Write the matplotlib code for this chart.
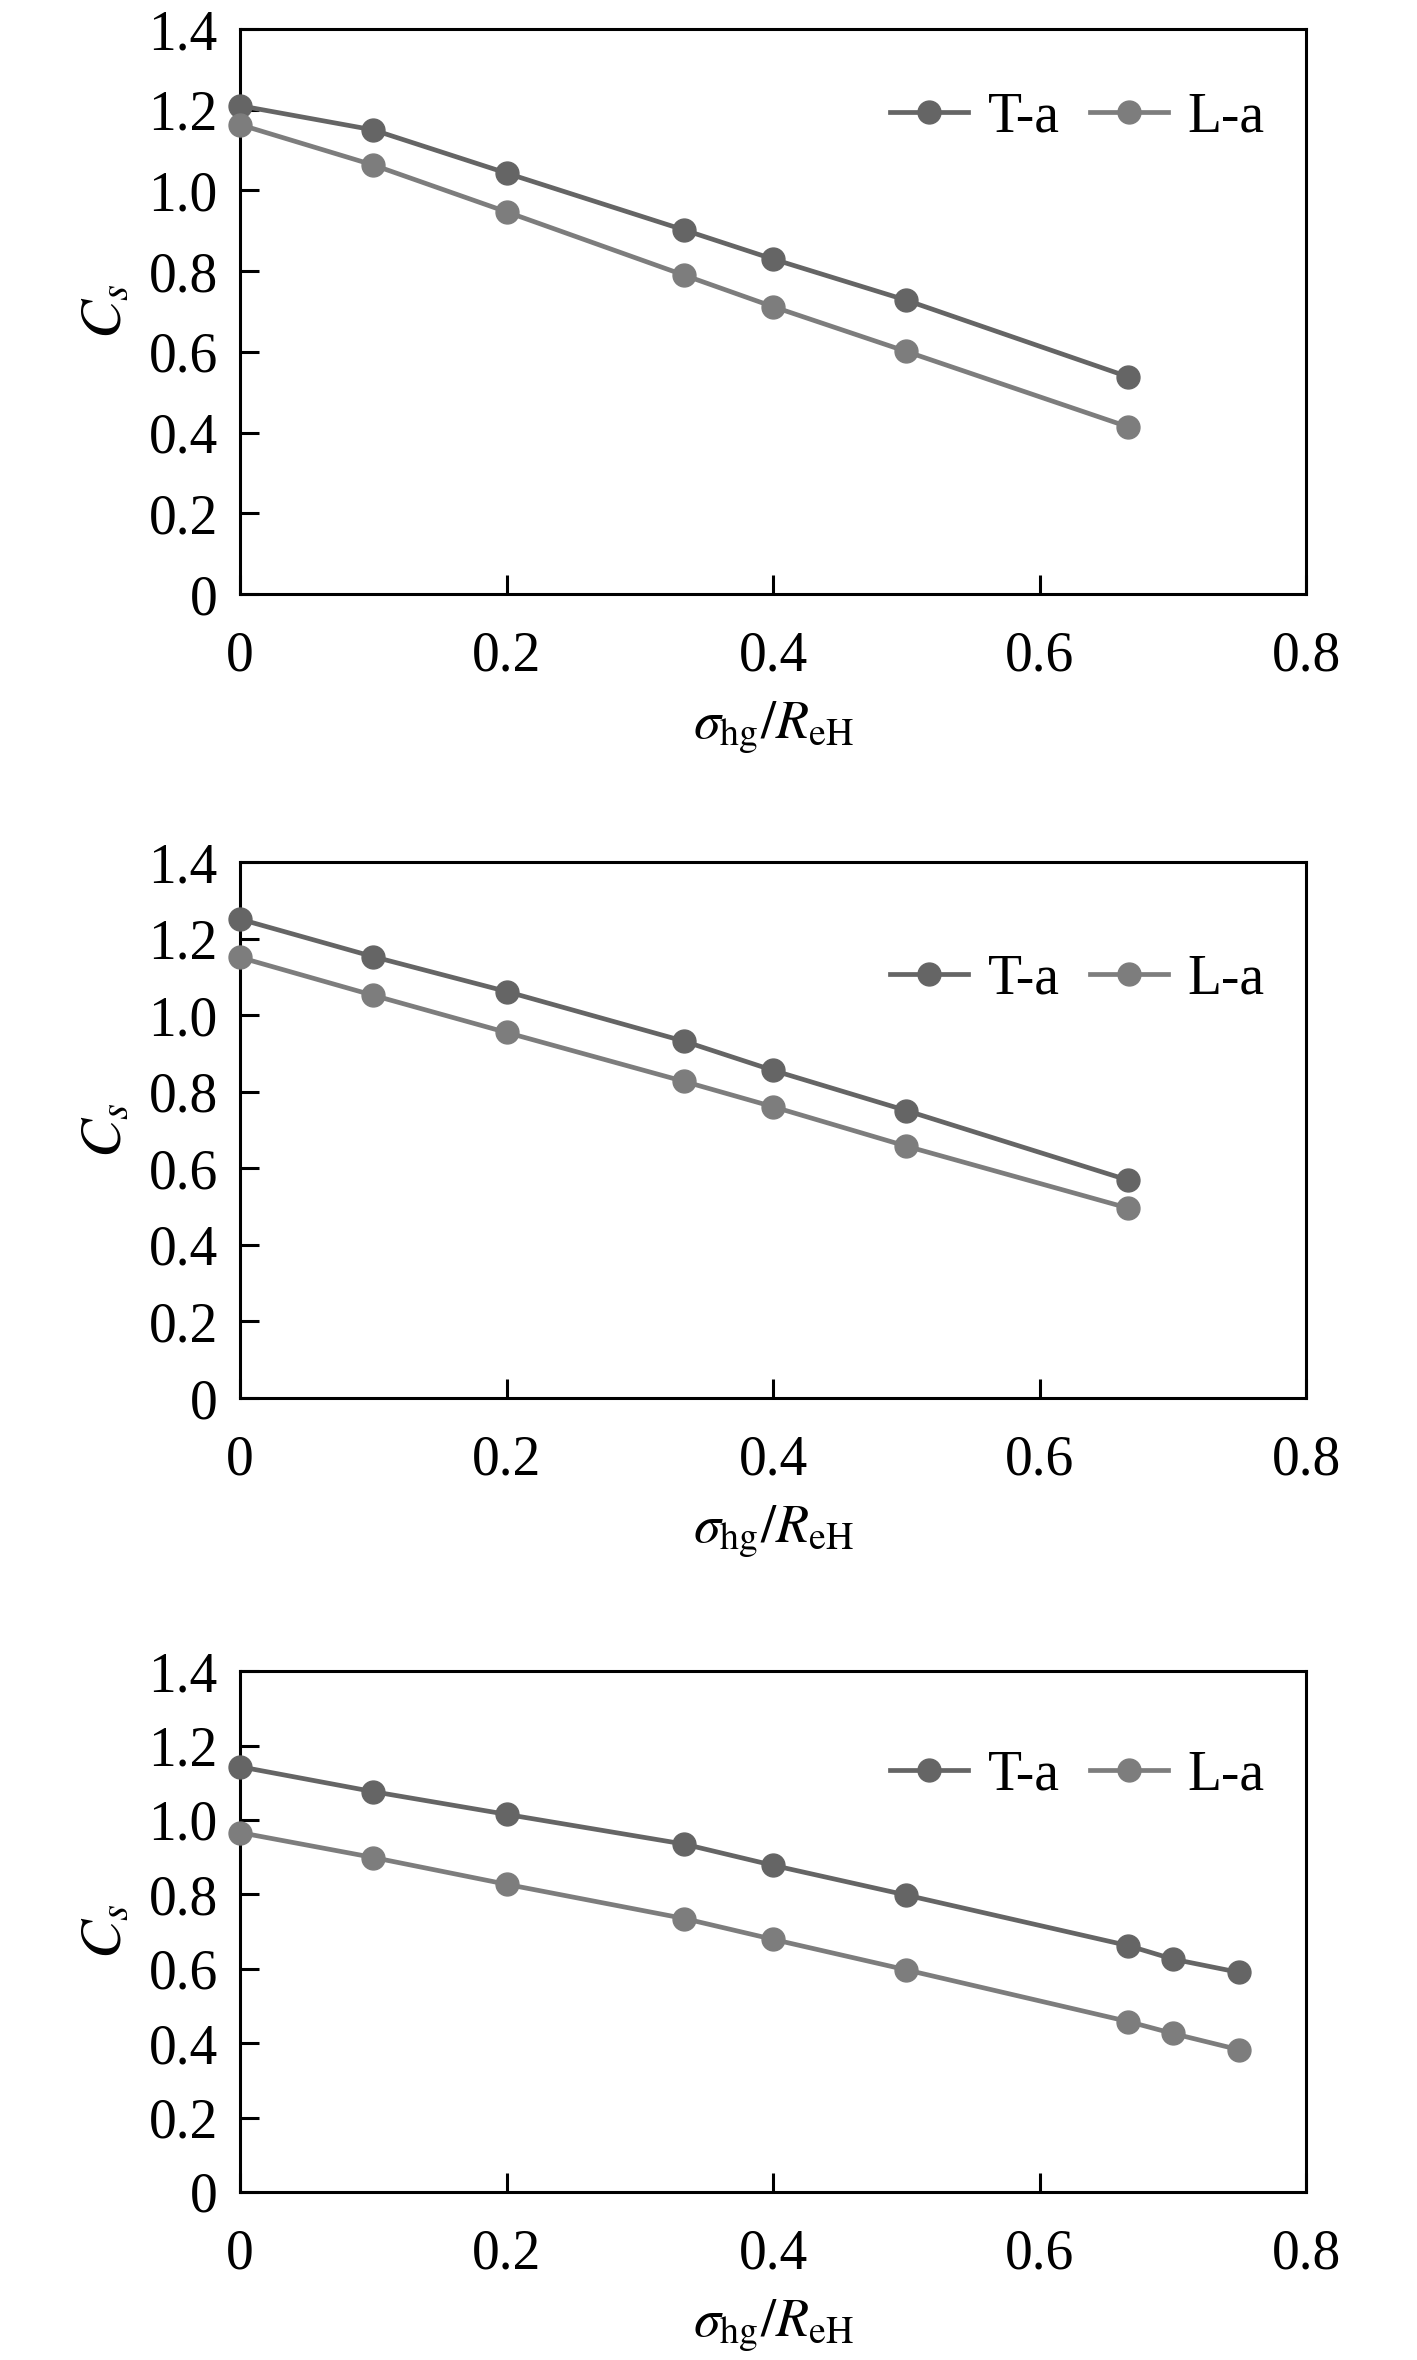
import matplotlib
matplotlib.use("Agg")
import matplotlib.pyplot as plt

plt.rcParams['font.family'] = ['Liberation Serif', 'DejaVu Serif']
plt.rcParams['mathtext.fontset'] = 'stix'

# x positions (sigma_hg / R_eH)
x_a = [0, 0.1, 0.2, 1/3, 0.4, 0.5, 2/3]
x_c = [0, 0.1, 0.2, 1/3, 0.4, 0.5, 2/3, 0.7, 0.75]

# panel 1
t1 = [1.21, 1.15, 1.043, 0.902, 0.830, 0.728, 0.538]
l1 = [1.163, 1.063, 0.947, 0.790, 0.712, 0.601, 0.414]
# panel 2
t2 = [1.251, 1.153, 1.062, 0.932, 0.856, 0.751, 0.569]
l2 = [1.151, 1.052, 0.955, 0.827, 0.761, 0.658, 0.496]
# panel 3
t3 = [1.143, 1.076, 1.015, 0.935, 0.878, 0.798, 0.662, 0.626, 0.590]
l3 = [0.966, 0.899, 0.827, 0.735, 0.679, 0.597, 0.458, 0.426, 0.382]

xticks = [0, 0.2, 0.4, 0.6, 0.8]
xticklabels = ['0', '0.2', '0.4', '0.6', '0.8']
yticks = [0, 0.2, 0.4, 0.6, 0.8, 1.0, 1.2, 1.4]
yticklabels = ['0', '0.2', '0.4', '0.6', '0.8', '1.0', '1.2', '1.4']

names = ['T-a', 'L-a']
colores = ['#656565', '#7d7d7d']

paneles = [
    (x_a, t1, l1, [0.1694, 0.7483, 0.7523, 0.2394], 0.844),
    (x_a, t2, l2, [0.1694, 0.4076, 0.7523, 0.2271], 0.781),
    (x_c, t3, l3, [0.1694, 0.0712, 0.7523, 0.2207], 0.800),
]

fig = plt.figure(figsize=(14.17, 23.6), dpi=100)

for xs, ts, ls, rect, ley_y in paneles:
    ax = fig.add_axes(rect)
    for ys, nombre, c in zip([ts, ls], names, colores):
        ax.plot(xs, ys, '-o', color=c, lw=3.4, ms=16.5, label=nombre, clip_on=False, zorder=3)
    ax.set_xlim(0, 0.8)
    ax.set_ylim(0, 1.4)
    ax.set_xticks(xticks)
    ax.set_xticklabels(xticklabels)
    ax.set_yticks(yticks)
    ax.set_yticklabels(yticklabels)
    ax.tick_params(direction='in', length=13.5, width=2.2, labelsize=40, top=False, right=False)
    ax.tick_params(axis='y', pad=16)
    ax.tick_params(axis='x', pad=26)
    for s in ax.spines.values():
        s.set_linewidth(2.2)
    ax.set_xlabel(r'$\sigma_{\mathrm{hg}}/R_{\mathrm{eH}}$', fontsize=39, labelpad=12)
    ax.set_ylabel(r'$C_s$', fontsize=42)
    ax.yaxis.set_label_coords(-0.10, 0.5)
    ax.legend(loc='center right', bbox_to_anchor=(0.961, ley_y), ncol=2, frameon=False,
              fontsize=40, handlelength=1.4, handletextpad=0.35, columnspacing=0.55,
              borderaxespad=0, borderpad=0)

fig.savefig('out.png', dpi=100)
